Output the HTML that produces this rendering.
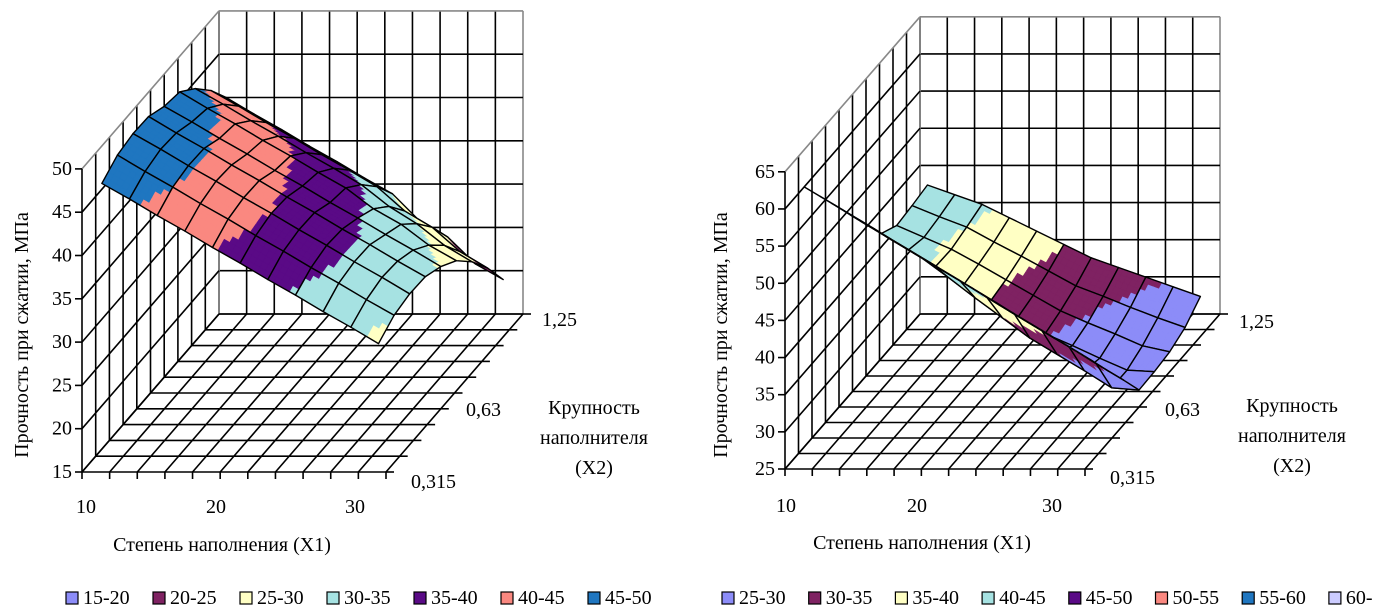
<!DOCTYPE html>
<html><head><meta charset="utf-8"><style>
html,body{margin:0;padding:0;background:#fff;}
svg{display:block;}
text{font-family:"Liberation Serif","Times New Roman","DejaVu Serif",serif;}
</style></head><body>
<svg id="root" width="1377" height="616" viewBox="0 0 1377 616"></svg>
<script>
// ---- data: chart 1 (left) ----
const leftX1Labels = ['10','20','30'];
const leftX2Labels = ['0,315','0,63','1,25'];
const leftZTicks = [15,20,25,30,35,40,45,50];
const leftBands = ['15-20','20-25','25-30','30-35','35-40','40-45','45-50'];
const leftValues = [
 [47.5,48.7,49.1,49.0,48.1,47.7,46.0,43.7,40.8],
 [45.7,46.8,47.3,47.1,46.3,45.8,44.2,41.9,38.9],
 [43.8,45.0,45.4,45.3,44.4,44.0,42.3,40.0,37.1],
 [42.0,43.1,43.6,43.4,42.6,42.1,40.5,38.2,35.2],
 [40.1,41.3,41.7,41.6,40.7,40.3,38.6,36.3,33.4],
 [38.3,39.4,39.9,39.7,38.9,38.4,36.8,34.5,31.5],
 [36.4,37.6,38.0,37.9,37.0,36.6,34.9,32.6,29.7],
 [34.6,35.7,36.2,36.0,35.2,34.2,32.4,29.8,26.5],
 [32.7,33.9,34.3,34.2,33.3,32.4,30.4,27.9,24.7],
 [30.9,32.0,32.5,32.3,31.5,30.0,27.9,25.1,21.6],
 [29.0,30.2,30.6,30.5,29.6,28.2,26.0,23.2,19.8]
];
// ---- data: chart 2 (right) ----
const rightX1Labels = ['10','20','30'];
const rightX2Labels = ['0,315','0,63','1,25'];
const rightZTicks = [25,30,35,40,45,50,55,60,65];
const rightBands = ['25-30','30-35','35-40','40-45','45-50','50-55','55-60','60-'];
const rightValues = [
 [62.0,58.4,54.8,51.1,47.5,43.9,42.6,42.9,43.3],
 [59.8,56.2,52.5,48.9,45.3,41.7,41.0,41.4,42.0],
 [57.6,54.0,50.3,46.7,43.1,39.5,39.4,40.0,40.7],
 [55.3,51.7,48.1,44.5,40.4,36.9,37.4,38.0,38.9],
 [53.1,49.5,45.9,42.3,37.6,34.8,35.3,36.1,37.1],
 [50.9,47.3,43.7,40.0,34.9,32.6,33.2,34.1,35.3],
 [48.7,45.1,41.4,37.8,32.2,30.4,31.1,32.1,33.5],
 [46.5,42.8,39.2,35.6,30.0,28.8,29.5,30.7,32.2],
 [44.2,40.6,37.0,33.4,27.8,27.1,28.0,29.2,30.9],
 [42.0,38.4,34.8,31.1,25.5,25.5,26.4,27.8,29.6],
 [39.8,36.2,32.5,28.9,25.2,25.3,25.6,26.5,28.3]
];
const palette = ['#8c8cf8','#7f2262','#ffffc4','#a6e2e2','#5a0a86','#fa8880','#1f76c0','#ccccff'];

const NS='http://www.w3.org/2000/svg';
const root=document.getElementById('root');
function mk(tag,attrs,parent){const e=document.createElementNS(NS,tag);for(const k in attrs)e.setAttribute(k,attrs[k]);(parent||root).appendChild(e);return e;}

function drawChart(cfg){
  const g=mk('g',{});
  
  
  const zmin=cfg.zt[0], zmax=cfg.zt[cfg.zt.length-1];
  const P=(u,v,z)=>[cfg.ox+u*cfg.xw+v*cfg.dx, cfg.oy+v*cfg.dy-(z-zmin)*cfg.zs];
  const line=(a,b,col,w,nm)=>{const l=mk('line',{x1:a[0],y1:a[1],x2:b[0],y2:b[1],stroke:col,'stroke-width':w},g);
    
    return l;};
  const NX=11, ND=10;
  for(let k=0;k<=NX;k++){const u=k/NX;line(P(u,1,zmin),P(u,1,zmax),(k==NX)?'#888':'#000',1.6,'back-wall-gridline');}
  cfg.zt.forEach((z,i)=>{line(P(0,1,z),P(1,1,z),(i==cfg.zt.length-1)?'#888':'#000',1.6,'back-wall-gridline');});
  for(let k=1;k<=ND;k++){const v=k/ND;line(P(0,v,zmin),P(0,v,zmax),(k==ND)?'#888':'#000',1.6,'side-wall-gridline');}
  cfg.zt.forEach((z,i)=>{line(P(0,0,z),P(0,1,z),(i==cfg.zt.length-1)?'#888':'#000',1.6,'side-wall-gridline');});
  for(let k=0;k<=ND;k++){const v=k/ND;line(P(0,v,zmin),P(1,v,zmin),'#000',1.6,'floor-gridline');}
  for(let k=0;k<=NX;k++){const u=k/NX;line(P(u,0,zmin),P(u,1,zmin),'#000',1.6,'floor-gridline');}
  line(P(0,0,zmin),P(0,0,zmax),'#000',1.6,'z-axis-line');
  cfg.zt.forEach(z=>{const p=P(0,0,z);line(p,[p[0]-7,p[1]],'#000',1.6,'z-tick');});
  for(let k=0;k<=NX;k++){const p=P(k/NX,0,zmin);line(p,[p[0],p[1]+7],'#000',1.6,'x1-tick');}
  for(let k=0;k<=ND;k++){const p=P(1,k/ND,zmin);line(p,[p[0]+8,p[1]],'#000',1.6,'x2-tick');}
  const vals=cfg.values, NI=vals.length, NJ=vals[0].length;
  const uu=i=>0.045+0.91*i/(NI-1), vv=j=>0.045+0.91*j/(NJ-1);
  const col=z=>{let b=Math.floor((z-zmin)/5);b=Math.max(0,Math.min(cfg.nb-1,b));return palette[b];};
  const S=5;
  const sg=mk('g',{},g);
  
  
  const rows=[];for(let j=0;j<NJ-1;j++)rows.push(j);
  rows.reverse();
  rows.forEach(j=>{
    for(let i=0;i<NI-1;i++){
      const z00=vals[i][j],z10=vals[i+1][j],z01=vals[i][j+1],z11=vals[i+1][j+1];
      const bil=(a,b)=>z00*(1-a)*(1-b)+z10*a*(1-b)+z01*(1-a)*b+z11*a*b;
      for(let sb=S-1;sb>=0;sb--){
        for(let sa=0;sa<S;sa++){
          const a0=sa/S,a1=(sa+1)/S,b0=sb/S,b1=(sb+1)/S;
          const pt=(a,b)=>P(uu(i)+(uu(i+1)-uu(i))*a, vv(j)+(vv(j+1)-vv(j))*b, bil(a,b));
          const pts=[pt(a0,b0),pt(a1,b0),pt(a1,b1),pt(a0,b1)];
          const c=col(bil((a0+a1)/2,(b0+b1)/2));
          const q=mk('polygon',{points:pts.map(p=>p.join(',')).join(' '),fill:c,stroke:c,'stroke-width':0.8},sg);
          
          
        }
      }
      const e=[P(uu(i),vv(j),z00),P(uu(i+1),vv(j),z10),P(uu(i+1),vv(j+1),z11),P(uu(i),vv(j+1),z01)];
      const o=mk('polygon',{points:e.map(p=>p.join(',')).join(' '),fill:'none',stroke:'#000','stroke-width':1.4,'stroke-linejoin':'round'},sg);
      
      
    }
  });
  const txt=(x,y,s,anchor,nm,extra)=>{const t=mk('text',Object.assign({x:x,y:y,'font-size':20,'font-family':'Liberation Serif, Times New Roman, serif','text-anchor':anchor,'dominant-baseline':'central',fill:'#000'},extra||{}),g);t.textContent=s;
    
    return t;};
  cfg.zt.forEach(z=>{const p=P(0,0,z);txt(p[0]-10,p[1],String(z),'end','z-tick-label');});
  cfg.x1l.forEach((s,i)=>txt(cfg.x1x[i],cfg.x1y,s,'middle','x1-tick-label'));
  cfg.x2l.forEach((s,i)=>txt(cfg.x2p[i][0],cfg.x2p[i][1],s,'start','x2-tick-label'));
  txt(cfg.xt[0],cfg.xt[1],'Степень наполнения (X1)','middle','x1-axis-title');
  txt(cfg.dt[0],cfg.dt[1],'Крупность','middle','x2-axis-title');
  txt(cfg.dt[0],cfg.dt[1]+30,'наполнителя','middle','x2-axis-title');
  txt(cfg.dt[0],cfg.dt[1]+60,'(X2)','middle','x2-axis-title');
  txt(cfg.yt[0],cfg.yt[1],'Прочность при сжатии, МПа','middle','z-axis-title',{transform:'rotate(-90 '+cfg.yt[0]+' '+cfg.yt[1]+')'});
  cfg.bands.forEach((b,i)=>{
    const x=cfg.lx+i*cfg.ls, y=598;
    const r=mk('rect',{x:x,y:y-6,width:12,height:12,fill:palette[i],stroke:'#000','stroke-width':1.2},g);
    
    
    txt(x+17,y,b,'start','legend-entry');
  });
}
drawChart({name:'left-chart',ox:82,oy:472,xw:304,dx:137,dy:-158,zs:8.66,zt:leftZTicks,values:leftValues,nb:7,
  x1l:leftX1Labels,x1x:[86,216,355],x1y:507,x2l:leftX2Labels,x2p:[[411,482],[466,410],[542,320]],
  xt:[222,545],dt:[594,408],yt:[22,335],bands:leftBands,lx:66,ls:87});
drawChart({name:'right-chart',ox:785,oy:469,xw:300,dx:135,dy:-155,zs:7.43,zt:rightZTicks,values:rightValues,nb:8,
  x1l:rightX1Labels,x1x:[786,917,1052],x1y:506,x2l:rightX2Labels,x2p:[[1110,478],[1165,410],[1239,322]],
  xt:[922,543],dt:[1292,406],yt:[721,335],bands:rightBands,lx:722,ls:86.7});
</script>
</body></html>
